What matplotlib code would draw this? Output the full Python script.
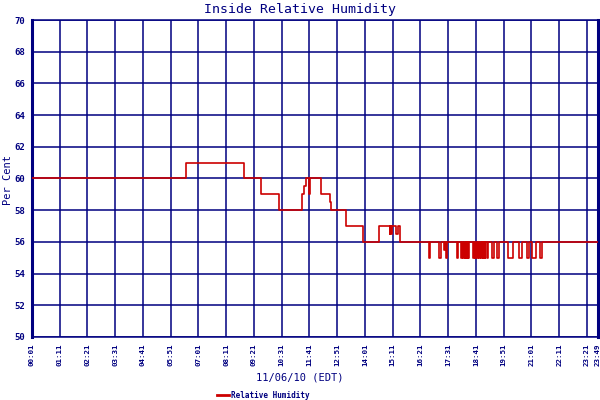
import numpy as np
import matplotlib
matplotlib.use("Agg")
import matplotlib.pyplot as plt
import matplotlib.transforms as mtransforms
from matplotlib.lines import Line2D

# readings (time of change, % relative humidity)
rh_times = ["00:01", "06:29", "08:57", "09:38", "09:40", "10:23", "11:21", "11:23",
            "11:28", "11:33", "11:39", "11:41", "11:43", "12:09", "12:34", "12:36",
            "13:12", "13:14", "13:55", "14:37", "15:03", "15:05", "15:08", "15:10",
            "15:20", "15:24", "15:30",
            "16:43", "16:46", "17:08", "17:13", "17:20", "17:24", "17:26", "17:29",
            "17:54", "17:56",
            "18:04", "18:06", "18:08", "18:10", "18:13", "18:15", "18:17", "18:20",
            "18:22", "18:24",
            "18:34", "18:37", "18:39", "18:42", "18:44", "18:46", "18:48", "18:51",
            "18:53", "18:56", "18:58", "19:00", "19:03", "19:05", "19:08", "19:12",
            "19:22", "19:27", "19:35", "19:40", "20:02", "20:15", "20:30", "20:38",
            "20:50", "20:55", "21:03", "21:13", "21:23", "21:28", "23:49"]
rh_values = [60, 61, 60, 59.6, 59, 58, 58.5, 59,
             59.5, 60, 59.5, 59, 60, 59, 58.5, 58,
             57.5, 57, 56, 57, 56.5, 57, 56.5, 57,
             56.5, 57, 56,
             55, 56, 55, 56, 55.5, 56, 55, 56,
             55, 56,
             55, 56, 55, 56, 55, 56, 55, 56,
             55, 56,
             55, 56, 55, 56, 55, 56, 55, 56,
             55, 56, 55, 56, 55, 56, 55, 56,
             55, 56, 55, 56, 55, 56, 55, 56,
             55, 56, 55, 56, 55, 56, 56]

tick_labels = ["00:01", "01:11", "02:21", "03:31", "04:41", "05:51", "07:01", "08:11",
               "09:21", "10:31", "11:41", "12:51", "14:01", "15:11", "16:21", "17:31",
               "18:41", "19:51", "21:01", "22:11", "23:21", "23:49"]
y_ticks = [50, 52, 54, 56, 58, 60, 62, 64, 66, 68, 70]

def to_min(s):
    h, m = s.split(":")
    return int(h) * 60 + int(m)

navy = "#000080"
red = "#cc0000"
mono = "DejaVu Sans Mono"

x = np.array([to_min(t) for t in rh_times])
y = np.array(rh_values)
xt = [to_min(t) for t in tick_labels]

fig = plt.figure(figsize=(6, 4), dpi=100)
ax = fig.add_axes([32/600, 1-337/400, 566/600, 317/400])

ax.plot(x, y, color=red, lw=1.2, drawstyle="steps-post", zorder=3)

ax.set_xlim(xt[0], xt[-1])
ax.set_ylim(50, 70)
ax.set_xticks(xt)
ax.set_xticklabels(tick_labels, rotation=90, fontsize=5.4, family=mono,
                   fontweight="bold", color=navy)
# nudge the last label so it stays inside the figure
last = ax.get_xticklabels()[-1]
last.set_transform(last.get_transform() +
                   mtransforms.ScaledTranslation(-2/100, 0, fig.dpi_scale_trans))
ax.set_yticks(y_ticks)
ax.set_yticklabels([str(v) for v in y_ticks], fontsize=6.5, family=mono,
                   fontweight="bold", color=navy)
ax.tick_params(length=0, pad=5)
ax.grid(True, color=navy, lw=1.1, zorder=1)
for s in ["top", "bottom"]:
    ax.spines[s].set_color(navy)
    ax.spines[s].set_linewidth(1.1)
for s in ["left", "right"]:
    ax.spines[s].set_color(navy)
    ax.spines[s].set_linewidth(2.2)

fig.text(0.5, 1-9/400, "Inside Relative Humidity", ha="center", va="center",
         fontsize=9.5, family=mono, color=navy)
fig.text(8/600, 1-180/400, "Per Cent", rotation=90, ha="center", va="center",
         fontsize=7.5, family=mono, color=navy)
fig.text(0.5, 1-378/400, "11/06/10 (EDT)", ha="center", va="center",
         fontsize=7.5, family=mono, color=navy)

fig.add_artist(Line2D([217/600, 229/600], [1-395/400, 1-395/400], color=red, lw=2))
fig.text(231/600, 1-395/400, "Relative Humidity", ha="left", va="center",
         fontsize=5.5, family=mono, fontweight="bold", color=navy)

fig.savefig("out.png", dpi=100)
